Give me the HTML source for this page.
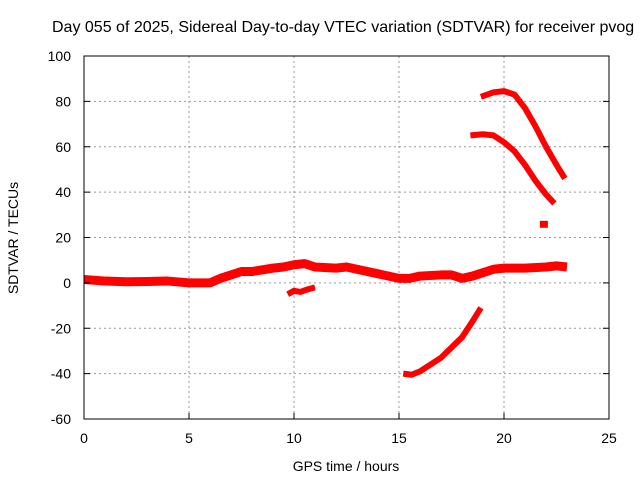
<!DOCTYPE html>
<html><head><meta charset="utf-8"><style>
body{margin:0;background:#fff;}
svg text{font-family:"Liberation Sans",sans-serif;font-size:14px;fill:#000;}
</style></head><body>
<svg id="chart" width="640" height="480" viewBox="0 0 640 480">
<text x="52" y="32" style="font-size:16px">Day 055 of 2025, Sidereal Day-to-day VTEC variation (SDTVAR) for receiver pvog</text>
<g id="grid"></g><g id="series"></g>
<rect x="84" y="56" width="525" height="363" fill="none" stroke="#000" stroke-width="1"/>
<g id="ticks"></g>
<text x="346" y="471" text-anchor="middle">GPS time / hours</text>
<text transform="translate(18,238) rotate(-90)" text-anchor="middle">SDTVAR / TECUs</text>
</svg>
<script>
const xTicks=[0,5,10,15,20,25];
const yTicks=[-60,-40,-20,0,20,40,60,80,100];
const mainHours=[0,1,2,3,4,5,6,6.5,7,7.5,8,9,9.5,10,10.5,11,12,12.5,13,14,15,15.5,16,17,17.5,18,18.5,19,19.5,20,21,22,22.5,23];
const mainVals=[1.5,0.8,0.5,0.6,0.8,0,0,2,3.5,5,5,6.5,7,8,8.5,7,6.5,7,6,4,2,2,3,3.5,3.5,2,3,4.5,6,6.5,6.5,7,7.5,7];
const smallHours=[9.7,10,10.3,10.6,11];
const smallVals=[-5,-3.5,-4,-3,-2];
const riseHours=[15.2,15.6,16,17,18,18.5,18.9];
const riseVals=[-40,-40.5,-39,-33,-24,-17,-11];
const arc1Hours=[18.9,19.5,20,20.5,21,21.5,22,22.5,22.9];
const arc1Vals=[82,84,84.5,83,77,69,60,52,46];
const arc2Hours=[18.4,19,19.5,20,20.5,21,21.5,22,22.4];
const arc2Vals=[65,65.5,65,62,58,52,45,39,35];
const pointHours=[21.9];
const pointVals=[25.6];
const X=v=>84+v*525/25, Y=v=>419-(v+60)*363/160;
const ns="http://www.w3.org/2000/svg";
const g=document.getElementById('grid'),t=document.getElementById('ticks'),s=document.getElementById('series');
function mk(p,tag,a){const e=document.createElementNS(ns,tag);for(const k in a)e.setAttribute(k,a[k]);p.appendChild(e);return e;}
xTicks.forEach(v=>{
 if(v>0&&v<25){const l=mk(g,'line',{x1:X(v),x2:X(v),y1:56,y2:419,stroke:'#999','stroke-dasharray':'2,3'});
 
 }
 const tk=mk(t,'line',{x1:X(v),x2:X(v),y1:419,y2:413,stroke:'#000'});
 
 
 const tx=mk(t,'text',{x:X(v),y:443,'text-anchor':'middle'});tx.textContent=v;
 
 
});
yTicks.forEach(v=>{
 if(v>-60&&v<100){const l=mk(g,'line',{x1:84,x2:609,y1:Y(v),y2:Y(v),stroke:'#999','stroke-dasharray':'2,3'});
 
 }
 const tk=mk(t,'line',{x1:84,x2:90,y1:Y(v),y2:Y(v),stroke:'#000'});
 
 
 const tk2=mk(t,'line',{x1:603,x2:609,y1:Y(v),y2:Y(v),stroke:'#000'});
 
 
 const tx=mk(t,'text',{x:71,y:Y(v)+5,'text-anchor':'end'});tx.textContent=v;
 
 
});
function series(hs,vs,w,name){
 const p=mk(s,'polyline',{points:hs.map((h,i)=>X(h)+','+Y(vs[i])).join(' '),fill:'none',stroke:'#f00','stroke-width':w,'stroke-linejoin':'round'});
 
 
}
series(mainHours,mainVals,9,'main-band-series');
series(smallHours,smallVals,6,'negative-segment-series');
series(riseHours,riseVals,6,'rising-segment-series');
series(arc1Hours,arc1Vals,6,'upper-arc-series');
series(arc2Hours,arc2Vals,6,'middle-arc-series');
pointHours.forEach((h,i)=>{
 const r=mk(s,'rect',{x:X(h)-4,y:Y(pointVals[i])-4,width:8,height:7,fill:'#f00'});
 
 
});
</script>
</body></html>
